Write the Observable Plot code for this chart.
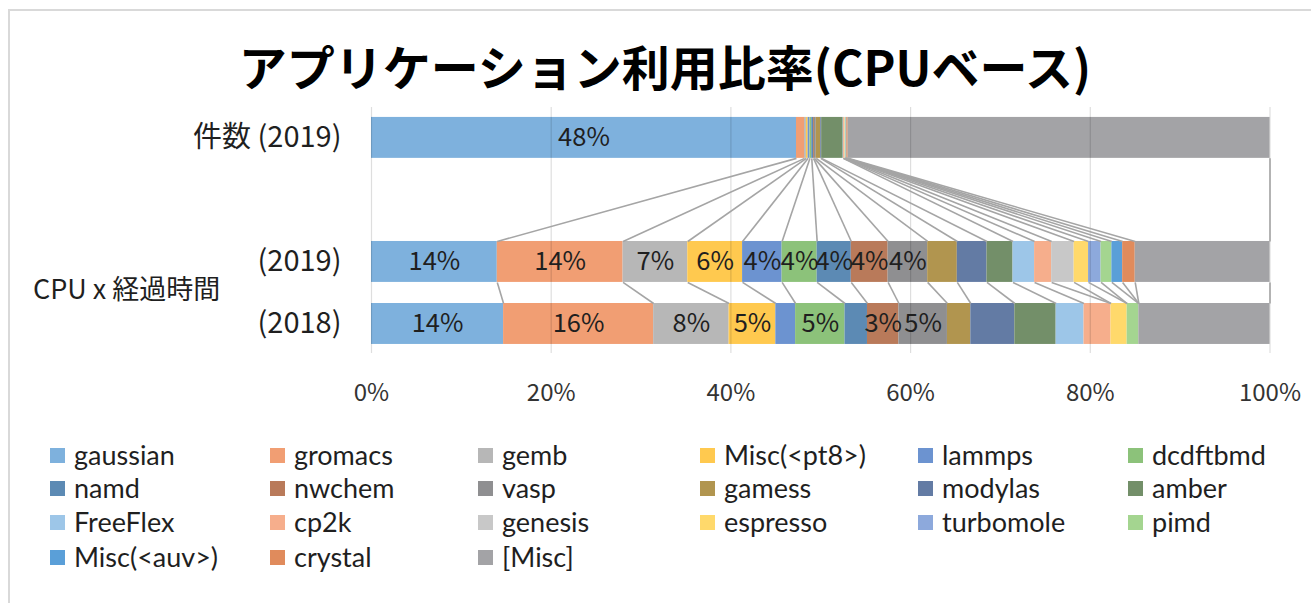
<!DOCTYPE html>
<html><head><meta charset="utf-8">
<script src="https://cdn.jsdelivr.net/npm/d3@7"></script>
<script src="https://cdn.jsdelivr.net/npm/@observablehq/plot@0.6"></script>
<style>
html,body{margin:0;padding:0;background:#fff;overflow:hidden;}
#wrap{position:relative;width:1311px;height:603px;font-family:'Noto Sans CJK JP',sans-serif;color:#1f1f1f;}
#frame{position:absolute;left:8px;top:9px;width:1400px;height:700px;border-left:2px solid #d9d9d9;border-top:2px solid #d9d9d9;}
#title{position:absolute;left:0;width:1330px;top:37px;text-align:center;font-size:48px;font-weight:bold;color:#000;line-height:1.2;}
#chart{position:absolute;left:0;top:0;}
#group{position:absolute;left:33px;top:270px;font-size:27px;white-space:nowrap;line-height:1.3;}
.lg{position:absolute;font-family:Lato,sans-serif;font-size:27px;white-space:nowrap;line-height:1;}
.sw{position:absolute;width:15px;height:15px;}
</style></head>
<body><div id="wrap"><div id="frame"></div><div id="title">アプリケーション利用比率(CPUベース)</div><div id="chart"></div><div id="group">CPU x 経過時間</div></div>
<script>
const apps = ["gaussian","gromacs","gemb","Misc(<pt8>)","lammps","dcdftbmd","namd","nwchem","vasp","gamess","modylas","amber","FreeFlex","cp2k","genesis","espresso","turbomole","pimd","Misc(<auv>)","crystal","[Misc]"];
const colors = ["#7EB1DD","#F19E73","#B7B7B7","#FFC94F","#6C93D0","#8CC27A","#5C8AB4","#B97A5A","#8F8F91","#B1954F","#637BA4","#738F69","#9DC6E8","#F6AE8C","#C8C8C8","#FFD96B","#8DA9DC","#A4D590","#5A9FD8","#E08B5C","#A3A3A6"];
const rowNames = ["件数 (2019)", "(2019)", "(2018)"];
const rowPos = [0, 2, 3];
const count2019 = [47.3,0.9,0.2,0.2,0.2,0.2,0.2,0.1,0.2,0.5,0.1,2.4,0.05,0.1,0.05,0.05,0.05,0.05,0.05,0.15,46.95];
const cpu2019 = [14.0,14.0,7.2,6.1,4.4,3.9,3.8,4.1,4.4,3.3,3.3,2.9,2.4,1.9,2.5,1.6,1.4,1.2,1.2,1.4,15.0];
const cpu2018 = [14.7,16.7,8.4,5.2,2.2,5.5,2.5,3.5,5.4,2.6,4.9,4.6,3.1,3.0,0,1.8,0,1.3,0,0,14.6];
const labelsCount2019 = ["48%"];
const labelsCpu2019 = ["14%","14%","7%","6%","4%","4%","4%","4%","4%"];
const labelsCpu2018 = ["14%","16%","8%","5%","","5%","","3%","5%"];
const xTicks = [0,20,40,60,80,100];

const series = [count2019, cpu2019, cpu2018];
const labelSets = [labelsCount2019, labelsCpu2019, labelsCpu2018];
const half = 0.33;
const rects = [], texts = [], cums = [];
series.forEach((vals, r) => {
  let c = 0; const cum = [0];
  vals.forEach((v, i) => {
    if (v > 0) rects.push({app: apps[i], x1: c, x2: c + v, y1: rowPos[r] - half, y2: rowPos[r] + half});
    const lab = labelSets[r][i];
    if (lab) texts.push({x: c + v / 2, y: rowPos[r], t: lab});
    c += v; cum.push(c);
  });
  cums.push(cum);
});
const links = [];
for (let r = 0; r < 2; r++) {
  for (let i = 1; i < cums[r].length; i++) {
    links.push({x1: cums[r][i], x2: cums[r+1][i], y1: rowPos[r] + half, y2: rowPos[r+1] - half});
  }
}
const yLabels = rowNames.map((n, i) => ({n, y: rowPos[i]}));

const plot = Plot.plot({
  width: 1311, height: 420,
  marginTop: 107, marginBottom: 67, marginLeft: 371, marginRight: 41.5,
  style: {fontFamily: "'Noto Sans CJK JP', sans-serif", fontSize: "24px", color: "#333", background: "transparent"},
  x: {domain: [0, 100], ticks: xTicks, tickFormat: d => d + "%", tickSize: 0, tickPadding: 30, label: null},
  y: {domain: [-0.49, 3.476], reverse: true, axis: null},
  color: {domain: apps, range: colors},
  marks: [
    Plot.rect(rects, {x1: "x1", x2: "x2", y1: "y1", y2: "y2", fill: "app"}),
    Plot.ruleX(xTicks, {stroke: "#000", strokeOpacity: 0.13, strokeWidth: 1.2}),
    Plot.link(links, {x1: "x1", x2: "x2", y1: "y1", y2: "y2", stroke: "#a5a5a5", strokeWidth: 1.6}),
    Plot.text(texts, {x: "x", y: "y", text: "t", fontSize: 25.5, fill: "#1f1f1f"}),
    Plot.text(yLabels, {x: d => 0, y: "y", text: "n", dx: -30, textAnchor: "end", fontSize: 29, fill: "#1f1f1f"})
  ]
});
document.getElementById("chart").appendChild(plot);

const colX = [50, 270, 478, 700, 918, 1128];
const rowY = [455, 488, 522, 557];
const wrap = document.getElementById("wrap");
apps.forEach((a, i) => {
  const c = i % 6, r = Math.floor(i / 6);
  const sw = document.createElement("div");
  sw.className = "sw"; sw.style.left = colX[c] + "px"; sw.style.top = (rowY[r] - 7) + "px"; sw.style.background = colors[i];
  const tx = document.createElement("div");
  tx.className = "lg"; tx.textContent = a; tx.style.left = (colX[c] + 24) + "px"; tx.style.top = (rowY[r] - 14) + "px";
  wrap.appendChild(sw); wrap.appendChild(tx);
});
</script>
</body></html>
